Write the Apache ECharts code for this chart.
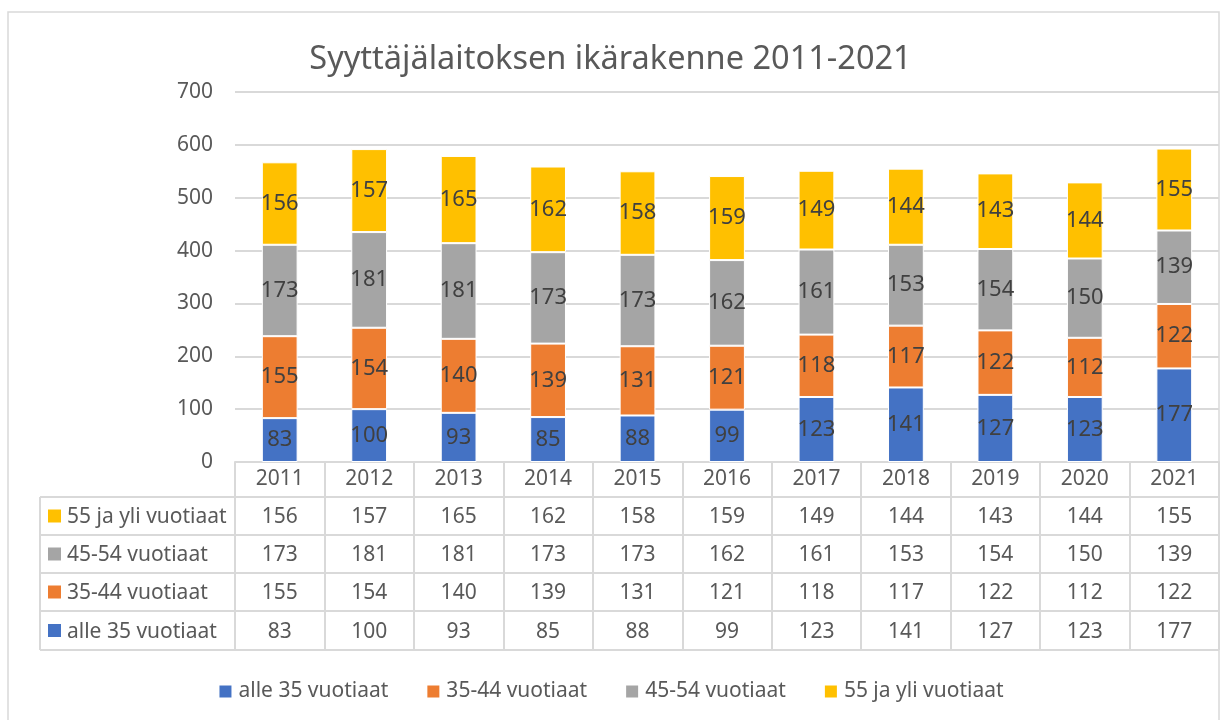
<!DOCTYPE html>
<html>
<head>
<meta charset="utf-8">
<script src="https://cdn.jsdelivr.net/npm/echarts@6/dist/echarts.min.js"></script>
<style>
  html, body { margin: 0; padding: 0; background: #fff; }
  #chart { width: 1221px; height: 720px; }
</style>
</head>
<body>
<div id="chart"></div>
<script>
const years = ['2011', '2012', '2013', '2014', '2015', '2016', '2017', '2018', '2019', '2020', '2021'];
const alle35 = [83, 100, 93, 85, 88, 99, 123, 141, 127, 123, 177];
const v35_44 = [155, 154, 140, 139, 131, 121, 118, 117, 122, 112, 122];
const v45_54 = [173, 181, 181, 173, 173, 162, 161, 153, 154, 150, 139];
const v55plus = [156, 157, 165, 162, 158, 159, 149, 144, 143, 144, 155];

const seriesNames = ['alle 35 vuotiaat', '35-44 vuotiaat', '45-54 vuotiaat', '55 ja yli vuotiaat'];
const seriesData = [alle35, v35_44, v45_54, v55plus];
const colors = ['#4472C4', '#ED7D31', '#A5A5A5', '#FFC000'];

const font = '"Noto Sans", sans-serif';
const textColor = '#595959';
const lineColor = '#D9D9D9';

// table geometry (rows under the x axis)
const tableLeft = 40;
const rowLines = [497, 535, 573, 611, 650];

const chart = echarts.init(document.getElementById('chart'));

const option = {
  animation: false,
  backgroundColor: '#fff',
  color: colors,
  title: {
    text: 'Syyttäjälaitoksen ikärakenne 2011-2021',
    left: 'center',
    top: 38,
    textStyle: { fontFamily: font, fontSize: 32.5, fontWeight: 'normal', color: textColor }
  },
  legend: {
    bottom: 13,
    left: 'center',
    itemWidth: 14,
    itemHeight: 14,
    itemGap: 37,
    icon: 'rect',
    textStyle: { fontFamily: font, fontSize: 21, color: textColor, padding: [0, 0, 0, 1] }
  },
  grid: { left: 235, right: 2, top: 92, bottom: 258 },
  xAxis: {
    type: 'category',
    data: years,
    axisLine: { lineStyle: { color: lineColor, width: 2 } },
    axisTick: { show: true, length: 188, lineStyle: { color: lineColor, width: 2 } },
    axisLabel: { margin: 7, fontFamily: font, fontSize: 21, color: textColor }
  },
  yAxis: {
    type: 'value',
    min: 0,
    max: 700,
    interval: 100,
    axisLine: { show: false },
    axisTick: { show: false },
    axisLabel: { margin: 22, fontFamily: font, fontSize: 21, color: textColor },
    splitLine: { lineStyle: { color: lineColor, width: 2 } }
  },
  series: seriesNames.map((name, i) => ({
    name: name,
    type: 'bar',
    stack: 'total',
    barWidth: '40%',
    data: seriesData[i],
    itemStyle: { color: colors[i], borderColor: '#fff', borderWidth: 1 },
    label: {
      show: true,
      position: 'inside',
      fontFamily: font,
      fontSize: 22,
      color: '#404040'
    }
  }))
};

chart.setOption(option);

// build the data table below the axis
const graphics = [];
const right = chart.getWidth() - 2;
rowLines.forEach(y => {
  graphics.push({
    type: 'line',
    shape: { x1: tableLeft, y1: y, x2: right, y2: y },
    style: { stroke: lineColor, lineWidth: 2 }
  });
});
graphics.push({
  type: 'line',
  shape: { x1: tableLeft, y1: rowLines[0], x2: tableLeft, y2: rowLines[rowLines.length - 1] },
  style: { stroke: lineColor, lineWidth: 2 }
});

// rows from top: 55+, 45-54, 35-44, alle 35
const rowOrder = [3, 2, 1, 0];
rowOrder.forEach((si, r) => {
  const cy = (rowLines[r] + rowLines[r + 1]) / 2 + 1.5;
  graphics.push({
    type: 'rect',
    shape: { x: 48, y: cy - 8, width: 13, height: 13 },
    style: { fill: colors[si] }
  });
  graphics.push({
    type: 'text',
    x: 67, y: cy,
    style: { text: seriesNames[si], font: '21px ' + font, fill: textColor, verticalAlign: 'middle', align: 'left' }
  });
  years.forEach((yr, ci) => {
    const cx = chart.convertToPixel({ xAxisIndex: 0 }, yr);
    graphics.push({
      type: 'text',
      x: cx, y: cy,
      style: { text: String(seriesData[si][ci]), font: '21px ' + font, fill: textColor, verticalAlign: 'middle', align: 'center' }
    });
  });
});

// outer chart border
graphics.push({
  type: 'rect',
  shape: { x: 8, y: 12, width: 1211, height: 730 },
  style: { fill: 'none', stroke: lineColor, lineWidth: 1.5 },
  z: -1
});

chart.setOption({ graphic: graphics });
</script>
</body>
</html>
